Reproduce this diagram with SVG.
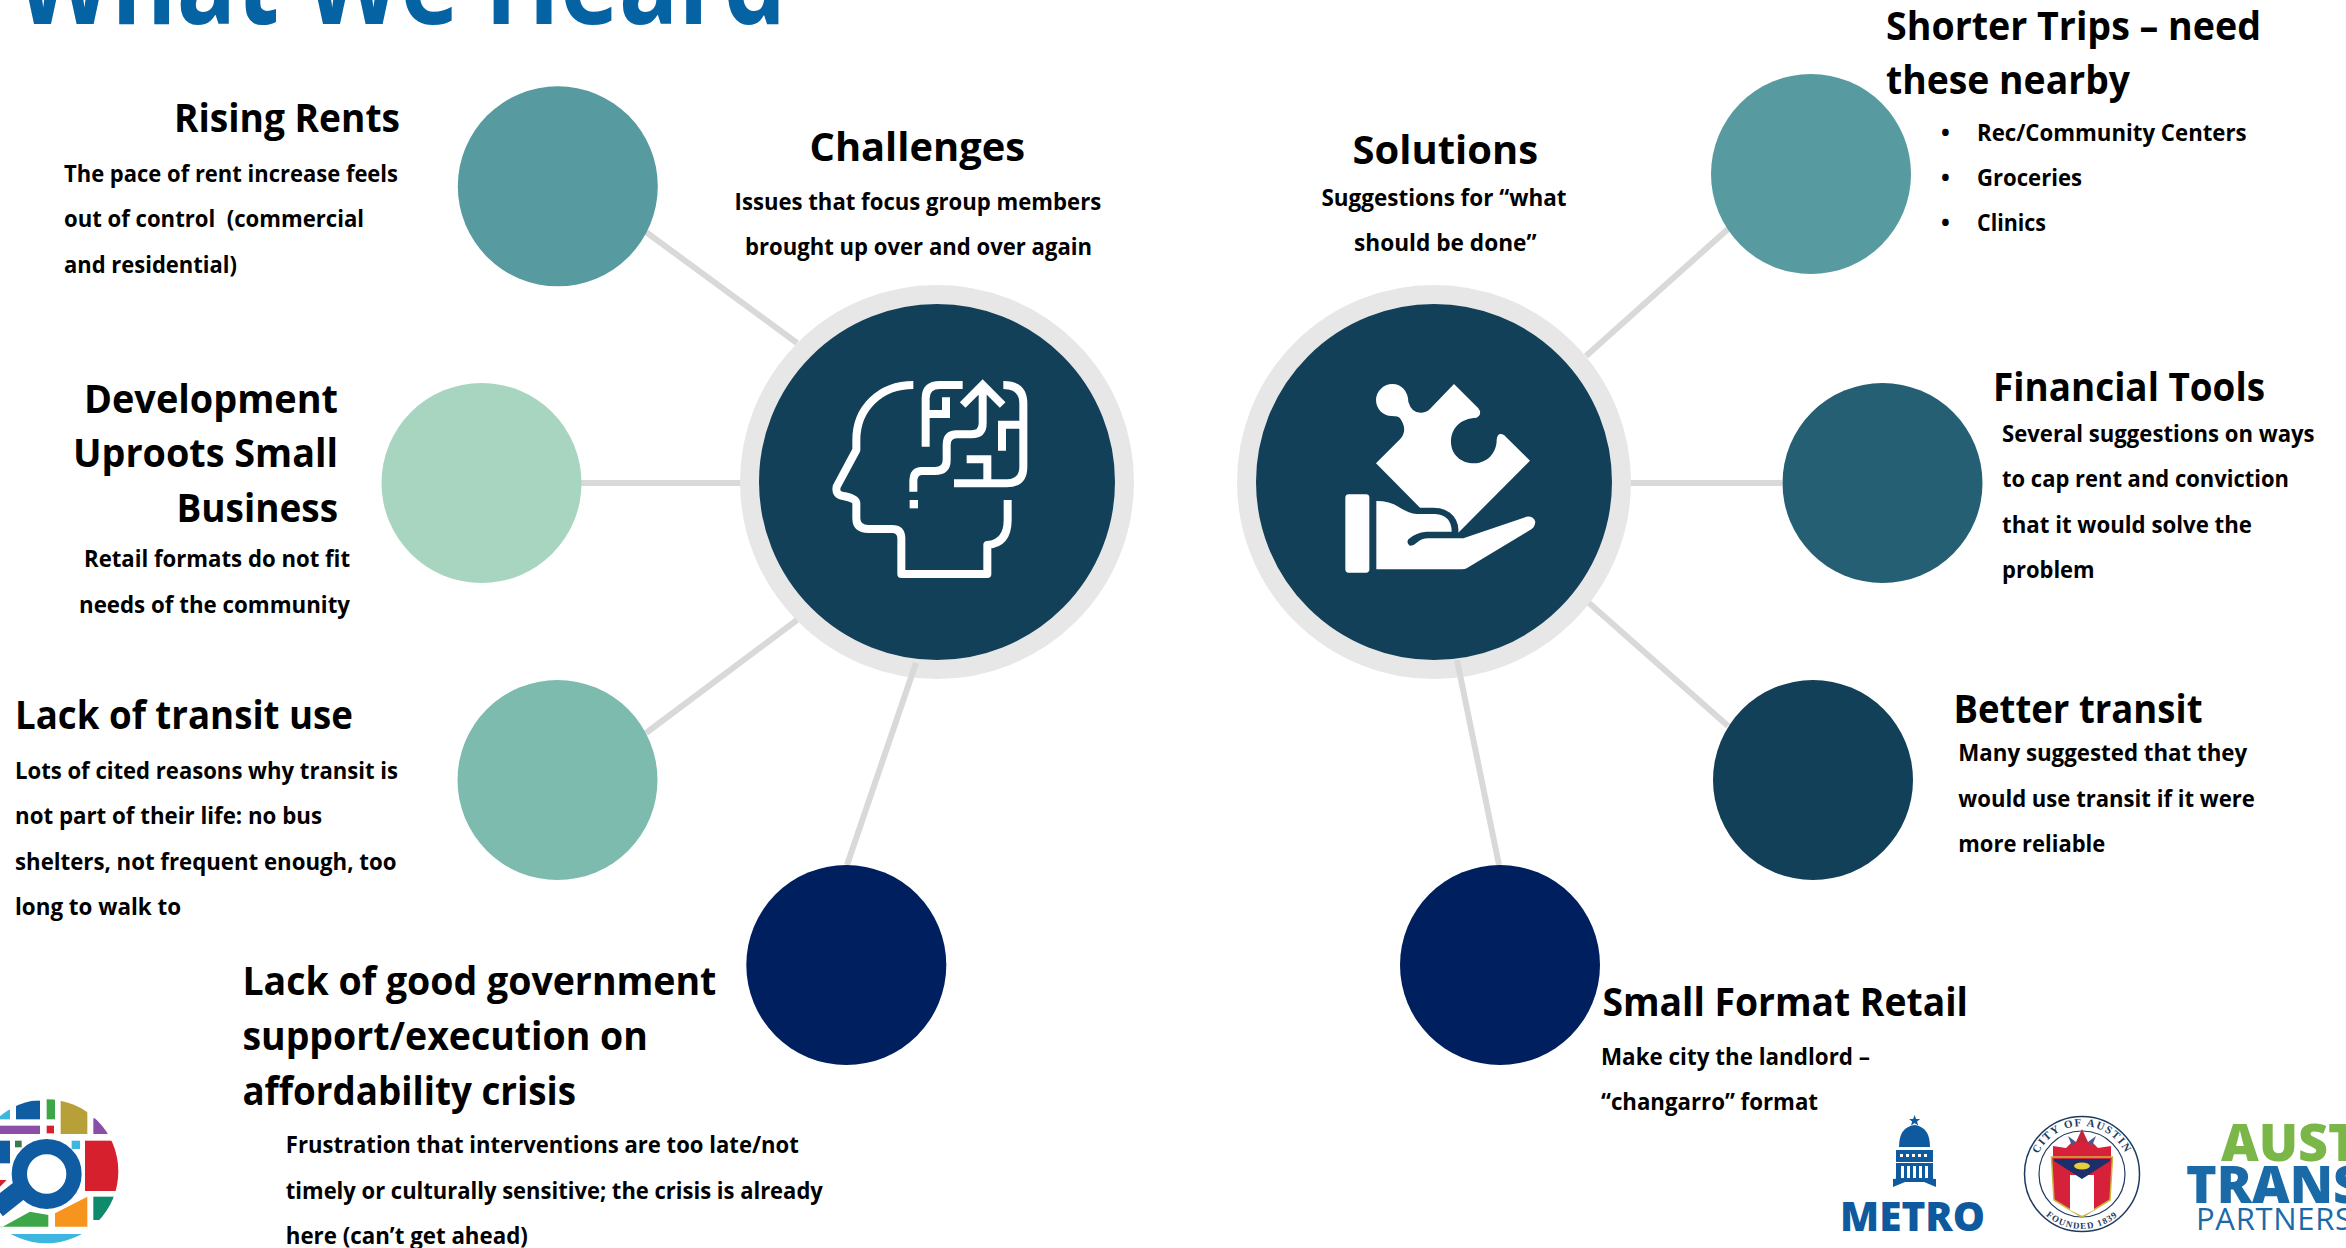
<svg xmlns="http://www.w3.org/2000/svg" width="2346" height="1248" viewBox="0 0 2346 1248">
<style>
text{font-family:"Open Sans","Noto Sans","Liberation Sans",sans-serif;fill:#000}
.h{font-size:40px;font-weight:700}
.b{font-size:23.4px;font-weight:700}
.l{fill:none;stroke:#d9d9d9;stroke-width:6}
.ring{fill:#134059;stroke:#e7e7e7;stroke-width:19}
.ic{fill:none;stroke:#fff;stroke-width:24}
.w{fill:#fff}
</style>
<defs>
<clipPath id="logoClip"><circle cx="139" cy="274" r="216"/></clipPath>
<path id="sealTop" d="M2034,1174 a48,48 0 0 1 96,0"/>
<path id="sealBot" d="M2027,1174 a55,55 0 0 0 110,0"/>
</defs>
<rect width="2346" height="1248" fill="#fff"/>
<text id="title" x="16" y="24" font-size="118" font-weight="700" textLength="770" lengthAdjust="spacingAndGlyphs" style="fill:#0563a3">What We Heard</text>
<g id="challenges">
<circle class="ring" cx="937" cy="482" r="187.500"/>
<g transform="translate(780,340) scale(.33333)">
<path class="ic" stroke-linejoin="round" d="M400,135 C300,135 229,205 229,300 L229,330 L170,440 Q165,465 190,468 Q229,475 229,490 L229,535 Q229,567 265,567 L335,567 Q364,567 364,595 L364,702 L622,702 L622,615 Q683,610 683,540 L683,480"/>
<path class="ic" d="M437,320 L437,175 Q437,135 480,135 L548,135 M437,222 L498,222 L498,172 M548,195 L608,135 L668,195 M608,135 L608,250 Q608,283 575,283 L530,283 Q500,283 500,315 L500,360 Q500,393 465,393 L425,393 Q400,393 400,425 L400,455 M670,135 Q730,135 730,190 L730,380 Q730,430 680,430 L522,430 M622,430 L622,358 L560,358 M666,332 L666,254 L730,254"/>
<rect class="w" x="389" y="480" width="25" height="25"/>
</g>
<text class="h" x="809.500" y="160.500" textLength="215.500" lengthAdjust="spacingAndGlyphs">Challenges</text>
<text class="b" x="734.600" y="210" textLength="366.600" lengthAdjust="spacingAndGlyphs">Issues that focus group members</text>
<text class="b" x="745" y="255" textLength="347" lengthAdjust="spacingAndGlyphs">brought up over and over again</text>
</g>
<g id="solutions">
<circle class="ring" cx="1434" cy="482" r="187.500"/>
<g transform="translate(1300,340) scale(.33333)">
<path class="w" d="M462,132 L535,205 Q548,222 530,233 C480,235 453,265 453,305 C453,345 485,370 522,370 C560,370 590,340 590,300 Q592,275 612,285 L690,362 L475,578 Q478,540 450,518 Q430,503 400,503 L360,503 L228,370 L300,298 Q325,270 300,235 Q295,228 275,228 C250,228 228,207 228,180 C228,155 250,132 277,132 C305,132 325,155 325,185 Q335,220 365,218 Q380,218 392,205 Z"/>
<rect class="w" x="136" y="463" width="72" height="235" rx="10"/>
<path class="w" d="M229,483 Q270,483 295,500 Q325,520 350,522 L405,522 Q455,525 455,575 L380,575 Q345,578 325,598 Q318,610 330,617 Q340,618 350,608 Q365,595 385,595 L490,595 L680,530 Q700,528 706,545 Q705,560 695,567 L500,685 Q495,688 485,688 L229,688 Z"/>
</g>
<text class="h" x="1352.600" y="163.500" textLength="185.500" lengthAdjust="spacingAndGlyphs">Solutions</text>
<text class="b" x="1321.500" y="205.700" textLength="245" lengthAdjust="spacingAndGlyphs">Suggestions for “what</text>
<text class="b" x="1354" y="250.600" textLength="182.500" lengthAdjust="spacingAndGlyphs">should be done”</text>
</g>
<g id="connectors">
<line class="l" x1="646" y1="232" x2="797" y2="343"/>
<line class="l" x1="580" y1="483" x2="740" y2="483"/>
<line class="l" x1="646" y1="733" x2="797" y2="620"/>
<line class="l" x1="847" y1="865" x2="916" y2="663"/>
<line class="l" x1="1728" y1="229" x2="1586" y2="356"/>
<line class="l" x1="1631" y1="483" x2="1782" y2="483"/>
<line class="l" x1="1728" y1="726" x2="1589" y2="603"/>
<line class="l" x1="1499" y1="865" x2="1457" y2="660"/>
</g>
<g id="rising-rents">
<circle cx="557.800" cy="186.300" r="100" fill="#579a9f"/>
<text class="h" x="174" y="132" textLength="226" lengthAdjust="spacingAndGlyphs">Rising Rents</text>
<text class="b" x="64" y="181.500" textLength="334" lengthAdjust="spacingAndGlyphs">The pace of rent increase feels</text>
<text class="b" x="64" y="227" textLength="300" lengthAdjust="spacingAndGlyphs" xml:space="preserve">out of control  (commercial</text>
<text class="b" x="64" y="272.600" textLength="173" lengthAdjust="spacingAndGlyphs">and residential)</text>
</g>
<g id="development">
<circle cx="481.500" cy="483" r="100" fill="#a8d5c0"/>
<text class="h" x="84" y="413" textLength="254" lengthAdjust="spacingAndGlyphs">Development</text>
<text class="h" x="73" y="467" textLength="265" lengthAdjust="spacingAndGlyphs">Uproots Small</text>
<text class="h" x="176.500" y="522" textLength="161.500" lengthAdjust="spacingAndGlyphs">Business</text>
<text class="b" x="84" y="567" textLength="266" lengthAdjust="spacingAndGlyphs">Retail formats do not fit</text>
<text class="b" x="79" y="613" textLength="271" lengthAdjust="spacingAndGlyphs">needs of the community</text>
</g>
<g id="lack-transit">
<circle cx="557.500" cy="780" r="100" fill="#7dbbae"/>
<text class="h" x="15" y="729" textLength="338" lengthAdjust="spacingAndGlyphs">Lack of transit use</text>
<text class="b" x="15" y="778.800" textLength="383" lengthAdjust="spacingAndGlyphs">Lots of cited reasons why transit is</text>
<text class="b" x="15" y="824" textLength="307" lengthAdjust="spacingAndGlyphs">not part of their life: no bus</text>
<text class="b" x="15" y="869.500" textLength="381.500" lengthAdjust="spacingAndGlyphs">shelters, not frequent enough, too</text>
<text class="b" x="15" y="915" textLength="166" lengthAdjust="spacingAndGlyphs">long to walk to</text>
</g>
<g id="lack-government">
<circle cx="846.300" cy="965" r="100" fill="#001f5f"/>
<text class="h" x="242.400" y="995.400" textLength="474" lengthAdjust="spacingAndGlyphs">Lack of good government</text>
<text class="h" x="242.400" y="1050" textLength="405.500" lengthAdjust="spacingAndGlyphs">support/execution on</text>
<text class="h" x="242.400" y="1104.600" textLength="333.600" lengthAdjust="spacingAndGlyphs">affordability crisis</text>
<text class="b" x="285.800" y="1152.800" textLength="513" lengthAdjust="spacingAndGlyphs">Frustration that interventions are too late/not</text>
<text class="b" x="285.800" y="1198.500" textLength="537" lengthAdjust="spacingAndGlyphs">timely or culturally sensitive; the crisis is already</text>
<text class="b" x="285.800" y="1244" textLength="242" lengthAdjust="spacingAndGlyphs">here (can’t get ahead)</text>
</g>
<g id="shorter-trips">
<circle cx="1811" cy="174" r="100" fill="#579a9f"/>
<text class="h" x="1886" y="39.500" textLength="375" lengthAdjust="spacingAndGlyphs">Shorter Trips – need</text>
<text class="h" x="1886" y="93.500" textLength="244" lengthAdjust="spacingAndGlyphs">these nearby</text>
<text class="b" x="1941" y="140.700">•</text>
<text class="b" x="1977" y="140.700" textLength="269.600" lengthAdjust="spacingAndGlyphs">Rec/Community Centers</text>
<text class="b" x="1941" y="185.700">•</text>
<text class="b" x="1977" y="186" textLength="105" lengthAdjust="spacingAndGlyphs">Groceries</text>
<text class="b" x="1941" y="230.700">•</text>
<text class="b" x="1977" y="230.700" textLength="69" lengthAdjust="spacingAndGlyphs">Clinics</text>
</g>
<g id="financial-tools">
<circle cx="1882.500" cy="483" r="100" fill="#245f74"/>
<text class="h" x="1993" y="401.400" textLength="272" lengthAdjust="spacingAndGlyphs">Financial Tools</text>
<text class="b" x="2002" y="442" textLength="312.600" lengthAdjust="spacingAndGlyphs">Several suggestions on ways</text>
<text class="b" x="2002" y="487" textLength="287" lengthAdjust="spacingAndGlyphs">to cap rent and conviction</text>
<text class="b" x="2002" y="533" textLength="250" lengthAdjust="spacingAndGlyphs">that it would solve the</text>
<text class="b" x="2002" y="578.300" textLength="92.700" lengthAdjust="spacingAndGlyphs">problem</text>
</g>
<g id="better-transit">
<circle cx="1813" cy="780" r="100" fill="#134059"/>
<text class="h" x="1953.500" y="722.500" textLength="249" lengthAdjust="spacingAndGlyphs">Better transit</text>
<text class="b" x="1958.300" y="761" textLength="288.900" lengthAdjust="spacingAndGlyphs">Many suggested that they</text>
<text class="b" x="1958.300" y="807" textLength="296.500" lengthAdjust="spacingAndGlyphs">would use transit if it were</text>
<text class="b" x="1958.300" y="852" textLength="147" lengthAdjust="spacingAndGlyphs">more reliable</text>
</g>
<g id="small-format">
<circle cx="1500" cy="965" r="100" fill="#001f5f"/>
<text class="h" x="1602.400" y="1016.400" textLength="365.500" lengthAdjust="spacingAndGlyphs">Small Format Retail</text>
<text class="b" x="1601" y="1064.600" textLength="269" lengthAdjust="spacingAndGlyphs">Make city the landlord –</text>
<text class="b" x="1601" y="1109.500" textLength="217" lengthAdjust="spacingAndGlyphs">“changarro” format</text>
</g>
<g id="logo-left" transform="translate(0,1080) scale(.33333)">
<g clip-path="url(#logoClip)">
<rect x="48" y="62" width="72" height="56" fill="#0f5ca3"/>
<rect x="140" y="55" width="25" height="63" fill="#3da648"/>
<rect x="182" y="55" width="80" height="107" fill="#b8a038"/>
<rect x="-5" y="88" width="35" height="30" fill="#3db6e0"/>
<rect x="-5" y="137" width="125" height="25" fill="#8b4fa8"/>
<rect x="140" y="137" width="22" height="23" fill="#d7202e"/>
<path d="M280,115 L340,115 L340,162 L280,162 Z" fill="#8b4fa8"/>
<rect x="255" y="182" width="105" height="151" fill="#d7202e"/>
<path d="M165,400 L262,350 L262,440 L165,440 Z" fill="#f7941d"/>
<rect x="280" y="350" width="70" height="70" fill="#0f8a6a"/>
<path d="M0,445 L90,395 L145,405 L145,440 L0,440 Z" fill="#3da648"/>
<rect x="20" y="462" width="260" height="40" fill="#3db6e0"/>
<rect x="45" y="182" width="20" height="20" fill="#3c7a4a"/>
<rect x="215" y="182" width="25" height="25" fill="#3db6e0"/>
</g>
<rect x="-5" y="182" width="35" height="68" fill="#0f5ca3"/>
<path d="M0,300 L20,300 L0,320 Z" fill="#d7202e"/>
<circle cx="140" cy="282" r="82" fill="#fff" stroke="#0f5ca3" stroke-width="46"/>
<path d="M-10,385 L60,330" stroke="#0f5ca3" stroke-width="60" fill="none"/>
</g>
<g id="logo-metro" fill="#0f5a9e">
<path d="M1914.600,1115 l1.500,4 4,0 -3,2.500 1,4 -3.500,-2.500 -3.500,2.500 1,-4 -3,-2.500 4,0 Z"/>
<path d="M1899,1147 Q1899,1127 1914.600,1125 Q1930,1127 1930,1147 Z"/>
<rect x="1896" y="1150" width="37" height="12"/>
<rect x="1896" y="1163" width="37" height="19"/>
<path d="M1893,1179 L1914.600,1177 L1936,1179 L1936,1187 L1914.600,1178 L1893,1187 Z"/>
<g fill="#fff"><rect x="1900" y="1154" width="3" height="3"/><rect x="1906" y="1154" width="3" height="3"/><rect x="1912" y="1154" width="3" height="3"/><rect x="1918" y="1154" width="3" height="3"/><rect x="1924" y="1154" width="3" height="3"/><rect x="1901" y="1166" width="3" height="12"/><rect x="1907" y="1166" width="3" height="12"/><rect x="1913" y="1166" width="3" height="12"/><rect x="1919" y="1166" width="3" height="12"/><rect x="1925" y="1166" width="3" height="12"/></g>
<text x="1840" y="1231" font-size="41" font-weight="800" textLength="145" lengthAdjust="spacingAndGlyphs" style="fill:#0f5a9e">METRO</text>
</g>
<g id="logo-seal">
<circle cx="2082" cy="1174" r="57.500" fill="#fff" stroke="#1f3a5f" stroke-width="1.500"/>
<circle cx="2082" cy="1174" r="43" fill="#fff" stroke="#1f3a5f" stroke-width="1.200"/>
<text font-size="11" font-weight="700" style="fill:#1f3a5f;font-family:'Liberation Serif',serif" letter-spacing="1.500"><textPath href="#sealTop" startOffset="50%" text-anchor="middle">CITY OF AUSTIN</textPath></text>
<text font-size="9" font-weight="700" style="fill:#1f3a5f;font-family:'Liberation Serif',serif" letter-spacing="1.200"><textPath href="#sealBot" startOffset="50%" text-anchor="middle">FOUNDED 1839</textPath></text>
<path d="M2053,1157 L2053,1146 L2066,1148 L2072,1142 L2092,1142 L2098,1148 L2111,1146 L2111,1157 Z" fill="#d7203a"/>
<path d="M2076,1142 L2082,1129 L2088,1142 Z" fill="#c0263a"/>
<path d="M2072,1146 L2068,1136 L2076,1142 Z M2092,1146 L2096,1136 L2088,1142 Z" fill="#4a5a90"/>
<path d="M2051.500,1157 L2112.500,1157 L2110,1200 L2082,1217 L2054,1200 Z" fill="#d7203a" stroke="#c9b53c" stroke-width="1.500"/>
<path d="M2070,1175 L2094,1175 L2094,1210 L2082,1216 L2070,1210 Z" fill="#fff"/>
<path d="M2054,1159 L2110,1159 L2110,1161 L2082,1179 L2054,1161 Z" fill="#1b2f6b"/>
<ellipse cx="2082" cy="1166" rx="8" ry="3.500" fill="#e6cf3a"/>
</g>
<g id="logo-atp">
<text x="2221" y="1161" font-size="52" font-weight="800" style="fill:#7ab648">AUST</text>
<text x="2186" y="1203" font-size="52" font-weight="800" style="fill:#1b6aa8">TRANS</text>
<text x="2196" y="1230" font-size="31" font-weight="400" textLength="156" lengthAdjust="spacing" style="fill:#1b6aa8">PARTNERS</text>
</g>
</svg>
